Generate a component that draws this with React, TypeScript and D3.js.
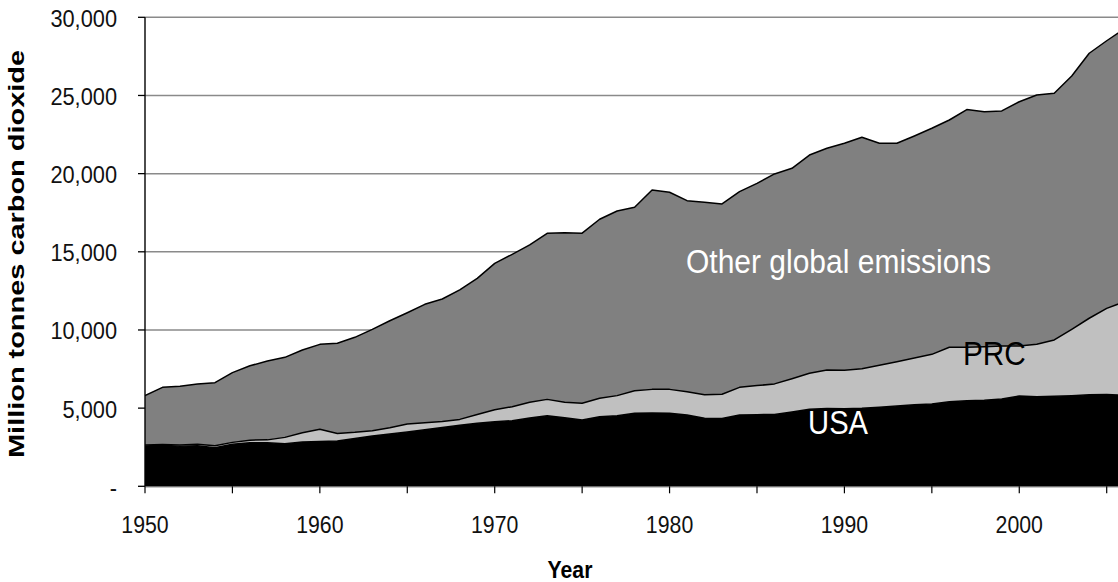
import React from "react";
import * as d3 from "d3";

// Categories
const years: number[] = d3.range(1950, 2007);

// Series values, million tonnes CO2
const usa: number[] = [
  2580, 2620, 2560, 2590, 2470, 2690, 2790, 2780, 2720, 2830,
  2870, 2900, 3060, 3220, 3340, 3480, 3610, 3760, 3900, 4040,
  4130, 4200, 4370, 4520, 4380, 4240, 4450, 4520, 4670, 4690,
  4670, 4560, 4360, 4330, 4560, 4580, 4600, 4760, 4930, 4980,
  4960, 4990, 5060, 5140, 5210, 5270, 5410, 5470, 5510, 5590,
  5780, 5730, 5760, 5800, 5860, 5870, 5820,
];
const prc: number[] = [
  60, 50, 80, 100, 130, 120, 160, 190, 410, 590,
  780, 480, 390, 340, 400, 510, 460, 380, 380, 550,
  770, 890, 1000, 1040, 1000, 1070, 1180, 1280, 1440, 1510,
  1530, 1490, 1490, 1560, 1770, 1860, 1950, 2120, 2300, 2460,
  2470, 2530, 2680, 2830, 2990, 3170, 3480, 3420, 3420, 3390,
  3200, 3350, 3600, 4240, 4890, 5510, 5980,
];
const other: number[] = [
  3160, 3660, 3760, 3850, 4030, 4460, 4760, 5040, 5120, 5300,
  5430, 5770, 6080, 6480, 6850, 7110, 7570, 7840, 8280, 8710,
  9360, 9750, 10070, 10620, 10840, 10880, 11450, 11810, 11740, 12750,
  12610, 12220, 12320, 12170, 12520, 12940, 13430, 13460, 13960, 14180,
  14510, 14810, 14200, 13970, 14210, 14460, 14540, 15210, 15030, 15030,
  15620, 15950, 15780, 16200, 16950, 17120, 17450,
];

// Tick labels
const yTickValues: number[] = [0, 5000, 10000, 15000, 20000, 25000, 30000];
const yTickLabels: string[] = ["-", "5,000", "10,000", "15,000", "20,000", "25,000", "30,000"];
const xTickYears: number[] = [1950, 1955, 1960, 1965, 1970, 1975, 1980, 1985, 1990, 1995, 2000, 2005];
const xLabelYears: number[] = [1950, 1960, 1970, 1980, 1990, 2000];

const W = 1118;
const H = 582;
const FONT = '"Liberation Sans", Arial, Helvetica, sans-serif';
const SY = 1.12;

export default function App() {
  const x = d3.scaleLinear().domain([1950, 2005]).range([145, 1106.7]);
  const y = d3.scaleLinear().domain([0, 30000]).range([486.3, 17.3]);

  const rows = years.map((yr, i) => ({ year: yr, usa: usa[i], prc: prc[i], other: other[i] }));
  const series = d3.stack<any>().keys(["usa", "prc", "other"])(rows);
  const area = d3
    .area<any>()
    .x((d) => x(d.data.year))
    .y0((d) => y(d[0]))
    .y1((d) => y(d[1]));
  const topLine = d3
    .line<any>()
    .x((d) => x(d.data.year))
    .y((d) => y(d[1]));

  const fills: Record<string, string> = { usa: "#000000", prc: "#c0c0c0", other: "#808080" };
  const x0 = x(1950);
  const yBase = y(0);

  return (
    <div style={{ position: "absolute", left: 0, top: 0, width: W, height: H, overflow: "hidden" }}>
      <svg width={W} height={H} style={{ display: "block", background: "#fff" }} fontFamily={FONT}>
        <defs>
          <clipPath id="plotclip">
            <rect x={x0} y={0} width={W - x0} height={yBase + 0.5} />
          </clipPath>
        </defs>

        {/* gridlines */}
        {yTickValues.slice(1).map((v) => (
          <line key={"g" + v} x1={x0} x2={W} y1={y(v)} y2={y(v)} stroke="#8a8a8a" strokeWidth={1.5} />
        ))}

        {/* stacked areas */}
        <g clipPath="url(#plotclip)">
          {series.map((s: any) => (
            <path key={s.key} d={area(s) as string} fill={fills[s.key]} />
          ))}
          {series.map((s: any) => (
            <path
              key={"l" + s.key}
              d={topLine(s) as string}
              fill="none"
              stroke="#000"
              strokeWidth={1.5}
              strokeLinejoin="round"
            />
          ))}
        </g>

        {/* y axis */}
        <line x1={x0} x2={x0} y1={y(30000)} y2={yBase} stroke="#000" strokeWidth={1.4} />
        {yTickValues.map((v, i) => (
          <g key={"yt" + v}>
            <line x1={x0 - 7} x2={x0} y1={y(v)} y2={y(v)} stroke="#000" strokeWidth={1.3} />
            <text
              transform={`translate(117,${y(v) + 9.5}) scale(1,${SY})`}
              textAnchor="end"
              fontSize={21.8}
              fill="#111"
            >
              {yTickLabels[i]}
            </text>
          </g>
        ))}

        {/* x axis */}
        <line x1={x0} x2={W} y1={yBase + 0.5} y2={yBase + 0.5} stroke="#444" strokeWidth={1} />
        {xTickYears.map((yr) => (
          <line key={"xt" + yr} x1={x(yr)} x2={x(yr)} y1={yBase} y2={yBase + 7} stroke="#000" strokeWidth={1.2} />
        ))}
        {xLabelYears.map((yr) => (
          <text
            key={"xl" + yr}
            transform={`translate(${x(yr)},533) scale(1,${SY})`}
            textAnchor="middle"
            fontSize={21.3}
            fill="#111"
          >
            {yr}
          </text>
        ))}

        {/* axis titles */}
        <text
          transform={`translate(570,577.5) scale(1,${SY + 0.05})`}
          textAnchor="middle"
          fontSize={21.2}
          fontWeight="bold"
          fill="#000"
        >
          Year
        </text>
        <text
          transform={`translate(24,254) rotate(-90)`}
          textAnchor="middle"
          fontSize={22}
          fontWeight="bold"
          fill="#000"
          textLength={408}
          lengthAdjust="spacingAndGlyphs"
        >
          Million tonnes carbon dioxide
        </text>

        {/* series labels */}
        <text
          transform={`translate(${x(1980.94)},${y(13660)}) scale(1,${SY})`}
          fontSize={30}
          fill="#fff"
        >
          Other global emissions
        </text>
        <text
          transform={`translate(${x(1996.78)},${y(7760)}) scale(1,${SY})`}
          fontSize={29.8}
          fill="#000"
        >
          PRC
        </text>
        <text
          transform={`translate(${x(1987.92)},${y(3346)}) scale(1,${SY})`}
          fontSize={29.2}
          fill="#fff"
        >
          USA
        </text>
      </svg>
    </div>
  );
}
